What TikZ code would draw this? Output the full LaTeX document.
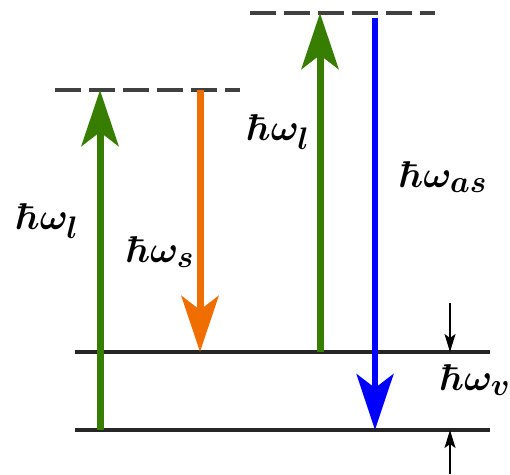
\documentclass[tikz,border=0pt]{standalone}
\usepackage{amsmath}
\usepackage{bm}
\usetikzlibrary{arrows.meta}
\definecolor{pumpgreen}{RGB}{55,125,0}
\definecolor{stokesorange}{RGB}{240,110,0}
\definecolor{asblue}{RGB}{0,0,255}
\tikzset{
  level/.style={line width=4.5pt,black!85},
  virtual/.style={line width=4pt,black!75,dash pattern=on 26pt off 8pt},
  photon/.style={line width=7pt,-{Stealth[length=56pt,width=37pt,inset=14pt]}},
  gap/.style={line width=1.8pt,-{Stealth[length=18pt,width=11pt,inset=4pt]}},
  lbl/.style={font=\Huge\boldmath,scale=1.5,transform shape,inner sep=0pt}
}
\begin{document}
\begin{tikzpicture}[x=1pt,y=-1pt]
\useasboundingbox (0,0) rectangle (510,474);
% energy levels
\coordinate (g0l) at (75,430); \coordinate (g0r) at (490,430);
\coordinate (v1l) at (75,352); \coordinate (v1r) at (490,352);
\coordinate (s1l) at (55,90);  \coordinate (s1r) at (240,90);
\coordinate (a1l) at (250,13); \coordinate (a1r) at (435,13);
\draw[level] (g0l) -- (g0r);
\draw[level] (v1l) -- (v1r);
\draw[virtual] (s1l) -- (s1r);
\draw[virtual] (a1l) -- (a1r);
% transitions
\coordinate (p1a) at (100,430); \coordinate (p1b) at (100,90);
\coordinate (s1a) at (200,90);  \coordinate (s1b) at (200,352);
\coordinate (p2a) at (320,352); \coordinate (p2b) at (320,13);
\coordinate (as1a) at (375,18); \coordinate (as1b) at (375,430);
\draw[photon,pumpgreen] (p1a) -- (p1b);
\draw[photon,stokesorange] (s1a) -- (s1b);
\draw[photon,pumpgreen] (p2a) -- (p2b);
\draw[photon,asblue,line width=5.5pt] (as1a) -- (as1b);
% vibrational spacing
\coordinate (ga) at (450,303); \coordinate (gb) at (450,352);
\coordinate (gc) at (450,474); \coordinate (gd) at (450,430);
\draw[gap] (ga) -- (gb);
\draw[gap] (gc) -- (gd);
% labels
\node[lbl] (lp1) at (47,221) {$\hbar\omega_{l}$};
\node[lbl] (ls1) at (160,252) {$\hbar\omega_{s}$};
\node[lbl] (lp2) at (278,132) {$\hbar\omega_{l}$};
\node[lbl] (las) at (443,177) {$\hbar\omega_{as}$};
\node[lbl] (lv) at (475,380) {$\hbar\omega_{v}$};
\end{tikzpicture}
\end{document}
